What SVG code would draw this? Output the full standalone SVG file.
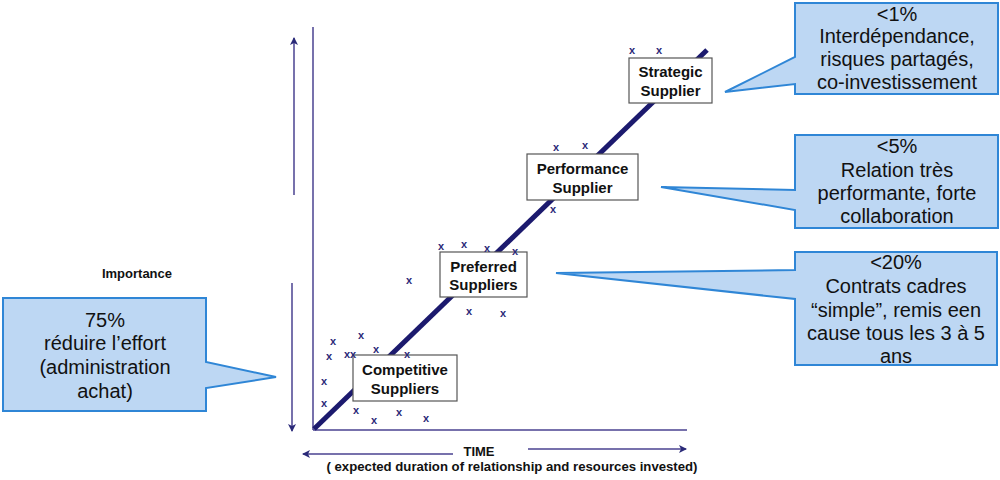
<svg xmlns="http://www.w3.org/2000/svg" width="1000" height="480" viewBox="0 0 1000 480">
<defs>
<marker id="ah" markerWidth="8" markerHeight="8" refX="7" refY="4" orient="auto" markerUnits="userSpaceOnUse"><path d="M0,0 L8,4 L0,8 L2,4 Z" fill="#2a2a78"/></marker>
<style>
.ax{stroke:#4a4290;stroke-width:1.5;fill:none}
.call{fill:#bdd7f3;stroke:#2f86d6;stroke-width:2}
.ct{font-family:"Liberation Sans",Arial,sans-serif;font-size:20px;fill:#111;text-anchor:middle}
.box{fill:#fff;stroke:#555;stroke-width:1.2}
.bt{font-family:"Liberation Sans",Arial,sans-serif;font-size:15px;font-weight:bold;fill:#111;text-anchor:middle}
.lb{font-family:"Liberation Sans",Arial,sans-serif;font-weight:bold;fill:#111;text-anchor:middle}
.xm{font-family:"Liberation Sans",Arial,sans-serif;font-size:11px;font-weight:bold;fill:#2a2a78;text-anchor:middle}
</style>
</defs>
<rect width="1000" height="480" fill="#fff"/>
<g id="connectors">
<line class="ax" x1="313" y1="27" x2="313" y2="430"/>
<line class="ax" x1="313" y1="430" x2="687" y2="430"/>
<line class="ax" x1="294" y1="195" x2="294" y2="38" marker-end="url(#ah)"/>
<line class="ax" x1="292" y1="283" x2="292" y2="431" marker-end="url(#ah)"/>
<line class="ax" x1="453" y1="454" x2="303" y2="454" marker-end="url(#ah)"/>
<line class="ax" x1="528" y1="449" x2="686" y2="449" marker-end="url(#ah)"/>
<line x1="314" y1="429" x2="707" y2="50" stroke="#1c1a6e" stroke-width="5"/>
</g>
<g id="labels">
<text class="lb" x="137" y="278" font-size="13">Importance</text>
<text class="lb" x="479" y="456" font-size="13">TIME</text>
<text class="lb" x="512" y="471" font-size="12" textLength="371" lengthAdjust="spacingAndGlyphs">( expected duration of relationship and resources invested)</text>
</g>
<g id="strategic">
<rect class="box" x="629" y="58" width="83" height="45"/>
<text class="bt" x="670.5" y="77">Strategic</text>
<text class="bt" x="670.5" y="96">Supplier</text>
</g>
<g id="performance">
<rect class="box" x="527" y="154" width="111" height="46"/>
<text class="bt" x="582.5" y="174">Performance</text>
<text class="bt" x="582.5" y="193">Supplier</text>
</g>
<g id="preferred">
<rect class="box" x="440" y="252" width="87" height="45"/>
<text class="bt" x="483.5" y="272">Preferred</text>
<text class="bt" x="483.5" y="290">Suppliers</text>
</g>
<g id="competitive">
<rect class="box" x="353" y="355" width="104" height="46"/>
<text class="bt" x="405" y="375">Competitive</text>
<text class="bt" x="405" y="394">Suppliers</text>
</g>
<g id="marks">
<text class="xm" x="632" y="54">x</text>
<text class="xm" x="659" y="54">x</text>
<text class="xm" x="556" y="151">x</text>
<text class="xm" x="585" y="149">x</text>
<text class="xm" x="553" y="213">x</text>
<text class="xm" x="441" y="250">x</text>
<text class="xm" x="464" y="248">x</text>
<text class="xm" x="487" y="252">x</text>
<text class="xm" x="515" y="255">x</text>
<text class="xm" x="409" y="284">x</text>
<text class="xm" x="469" y="315">x</text>
<text class="xm" x="503" y="317">x</text>
<text class="xm" x="333" y="345">x</text>
<text class="xm" x="361" y="339">x</text>
<text class="xm" x="329" y="360">x</text>
<text class="xm" x="347" y="358">x</text>
<text class="xm" x="353" y="358">x</text>
<text class="xm" x="376" y="353">x</text>
<text class="xm" x="407" y="358">x</text>
<text class="xm" x="324" y="385">x</text>
<text class="xm" x="324" y="407">x</text>
<text class="xm" x="356" y="414">x</text>
<text class="xm" x="374" y="424">x</text>
<text class="xm" x="399" y="416">x</text>
<text class="xm" x="426" y="422">x</text>
</g>
<g id="callout-75">
<path class="call" d="M3,298 H206 V362 L276,377 L206,388 V411 H3 Z"/>
<text class="ct" x="105" y="327">75%</text>
<text class="ct" x="105" y="350">réduire l’effort</text>
<text class="ct" x="105" y="374">(administration</text>
<text class="ct" x="105" y="398">achat)</text>
</g>
<g id="callout-1">
<path class="call" d="M795,3 H998 V94 H795 V84 L725,92 L795,57 Z"/>
<text class="ct" x="897" y="21">&lt;1%</text>
<text class="ct" x="897" y="43">Interdépendance,</text>
<text class="ct" x="897" y="66">risques partagés,</text>
<text class="ct" x="897" y="89">co-investissement</text>
</g>
<g id="callout-5">
<path class="call" d="M795,135 H998 V228 H795 V210 L661,187 L795,190 Z"/>
<text class="ct" x="897" y="153">&lt;5%</text>
<text class="ct" x="897" y="177">Relation très</text>
<text class="ct" x="897" y="200">performante, forte</text>
<text class="ct" x="897" y="223">collaboration</text>
</g>
<g id="callout-20">
<path class="call" d="M795,252 H997 V365 H795 V299 L556,273 L795,270 Z"/>
<text class="ct" x="896" y="269">&lt;20%</text>
<text class="ct" x="896" y="293">Contrats cadres</text>
<text class="ct" x="896" y="317">“simple”, remis een</text>
<text class="ct" x="896" y="340">cause tous les 3 à 5</text>
<text class="ct" x="896" y="363">ans</text>
</g>
</svg>
